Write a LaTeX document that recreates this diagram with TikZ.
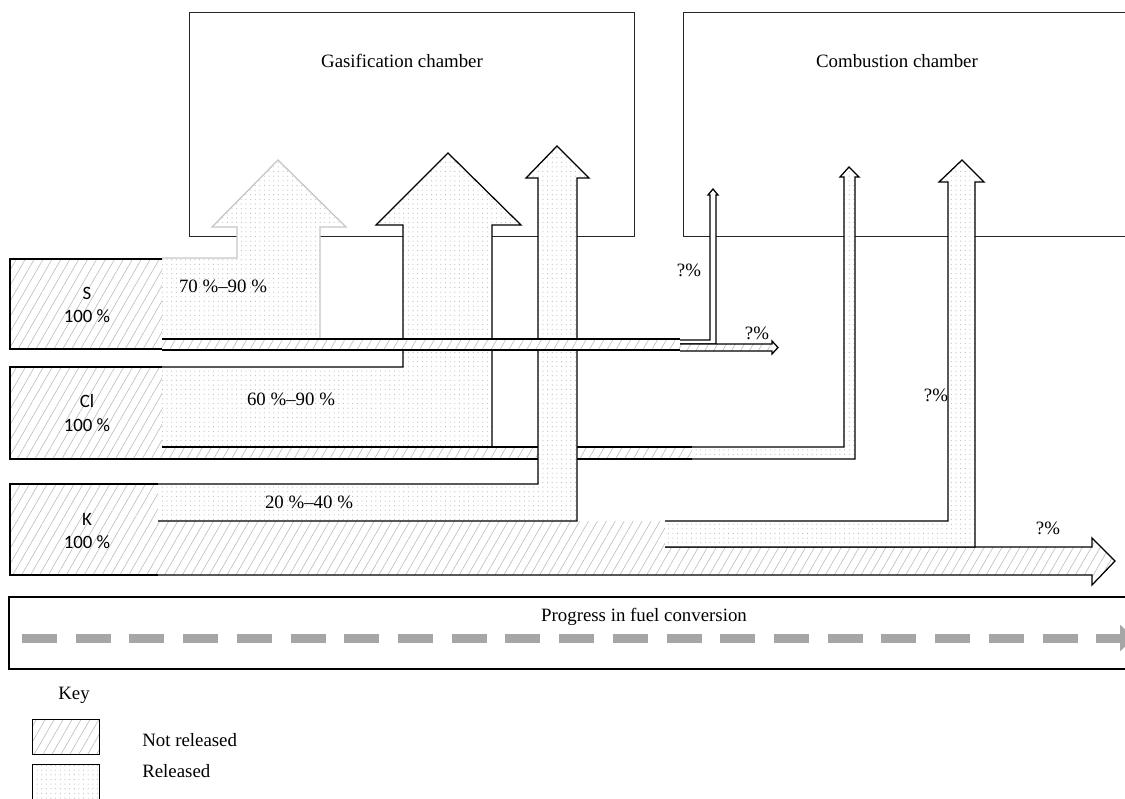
\documentclass[tikz,border=0pt]{standalone}
\usepackage{fontspec}
\setmainfont{Liberation Serif}
\newfontfamily\labelsans{Carlito}
\usetikzlibrary{patterns.meta, arrows.meta}

\tikzset{
  txt/.style={font=\fontsize{13.4}{16}\selectfont, inner sep=0pt},
  elem/.style={font=\labelsans\fontsize{13.4}{17}\selectfont, align=center, inner sep=0pt},
  chamber/.style={draw=black!85, line width=0.6pt},
  notrel/.style={preaction={fill=white}, pattern={Lines[angle=60, distance=5.5pt, line width=0.4pt]}, pattern color=gray!55},
  rel/.style={preaction={fill=white}, pattern={Dots[distance=3.3pt, radius=0.4pt]}, pattern color=gray!55},
  flowedge/.style={draw=black, line width=0.9pt},
  grayedge/.style={draw=gray!45, line width=0.9pt},
  progress/.style={draw=gray!70, line width=6.4pt, dash pattern=on 0.875cm off 0.4675cm, -{Triangle[length=0.35cm, width=0.65cm]}},
}

\begin{document}
\begin{tikzpicture}[x=0.025cm, y=-0.025cm]
  \useasboundingbox (0,0) rectangle (1125,798);
  \clip (0,0) rectangle (1125,798);

  % Chambers
  \draw[chamber] (189,12) rectangle (634,236);
  \node[txt] (gas) at (402,61) {Gasification chamber};
  \draw[chamber] (1140,12) -| (683,236) -- (1140,236);
  \node[txt] (comb) at (897,61) {Combustion chamber};

  % Element boxes
  \path[notrel] (10,259) rectangle (162,349);
  \draw[flowedge] (162,259) -- (10,259) -- (10,349) -- (162,349);
  \node[elem] (S) at (87,305) {S\\100 \%};
  \path[notrel] (10,367) rectangle (162,459);
  \draw[flowedge] (162,367) -- (10,367) -- (10,459) -- (162,459);
  \node[elem] (Cl) at (87,413) {Cl\\100 \%};
  \path[notrel] (10,484) rectangle (158,575);
  \draw[flowedge] (158,484) -- (10,484) -- (10,575) -- (158,575);
  \node[elem] (K) at (87,531) {K\\100 \%};

  % S released in gasification chamber
  \path[rel] (162,258) -- (237,258) -- (237,227) -- (212,227) -- (278,160) -- (346,227) -- (320,227) -- (320,339) -- (162,339) -- cycle;
  \draw[grayedge] (162,258) -- (237,258) -- (237,227) -- (212,227) -- (278,160) -- (346,227) -- (320,227) -- (320,339);
  \node[txt] (sgas) at (223,286) {70 \%--90 \%};

  % Cl released in gasification chamber
  \path[rel] (162,367) -- (403,367) -- (403,225) -- (376,225) -- (448,153) -- (521,225) -- (492,225) -- (492,447) -- (162,447) -- cycle;
  \draw[flowedge] (162,367) -- (403,367) -- (403,225) -- (376,225) -- (448,153) -- (521,225) -- (492,225) -- (492,447);
  \node[txt] (clgas) at (291,399) {60 \%--90 \%};

  % Cl not released, then released in combustion chamber
  \path[notrel] (162,447) rectangle (692,459);
  \draw[flowedge] (162,447) -- (692,447) (162,459) -- (692,459);
  \path[rel] (692,447) -- (844,447) -- (844,177) -- (840,177) -- (849,167) -- (859,177) -- (855,177) -- (855,459) -- (692,459) -- cycle;
  \draw[flowedge] (692,447) -- (844,447) -- (844,177) -- (840,177) -- (849,167) -- (859,177) -- (855,177) -- (855,459) -- (692,459);

  % K not released
  \path[notrel] (158,521) -- (665,521) -- (665,547) -- (1092,547) -- (1092,538) -- (1115,561) -- (1092,585) -- (1092,575) -- (158,575) -- cycle;
  \draw[flowedge] (665,547) -- (1092,547) -- (1092,538) -- (1115,561) -- (1092,585) -- (1092,575) -- (158,575);
  \node[txt] (kout) at (1048,528) {?\%};

  % K released in gasification chamber
  \path[rel] (158,484) -- (538,484) -- (538,178) -- (526,178) -- (557,146) -- (589,178) -- (577,178) -- (577,521) -- (158,521) -- cycle;
  \draw[flowedge] (158,484) -- (538,484) -- (538,178) -- (526,178) -- (557,146) -- (589,178) -- (577,178) -- (577,521) -- (158,521);
  \node[txt] (kgas) at (309,502) {20 \%--40 \%};

  % K released in combustion chamber
  \path[rel] (665,521) -- (948,521) -- (948,182) -- (939,182) -- (962,160) -- (984,182) -- (975,182) -- (975,547) -- (665,547) -- cycle;
  \draw[flowedge] (665,521) -- (948,521) -- (948,182) -- (939,182) -- (962,160) -- (984,182) -- (975,182) -- (975,547) -- (665,547);
  \node[txt] (kcomb) at (936,395) {?\%};

  % S not released
  \path[notrel] (162,339) rectangle (680,350);
  \draw[flowedge] (162,339) -- (680,339) (162,350) -- (680,350);
  \draw[flowedge, fill=white] (680,340) -- (710,340) -- (710,195) -- (708,195) -- (713,189) -- (718,195) -- (716,195) -- (716,344) -- (680,344);
  \path[notrel] (680,344) -- (772,344) -- (772,341) -- (778,347.5) -- (772,354) -- (772,351) -- (680,351) -- cycle;
  \draw[flowedge] (680,344) -- (772,344) -- (772,341) -- (778,347.5) -- (772,354) -- (772,351) -- (680,351);
  \node[txt] (scomb) at (689,270) {?\%};
  \node[txt] (sout) at (757,333) {?\%};

  % Progress
  \draw[line width=0.9pt] (1140,597) -| (9,669) -- (1140,669);
  \node[txt] (prog) at (644,617) {Progress in fuel conversion};
  \coordinate (pstart) at (22,638);
  \coordinate (pend) at (1134,638);
  \draw[progress] (pstart) -- (pend);

  % Key
  \node[txt] (key) at (74,695) {Key};
  \draw[notrel, draw=black, line width=0.6pt] (32,719) rectangle (99,754);
  \node[txt, anchor=west] (nrel) at (142,740) {Not released};
  \draw[rel, draw=black, line width=0.6pt] (32,764) rectangle (99,805);
  \node[txt, anchor=west] (yrel) at (142,771) {Released};
\end{tikzpicture}
\end{document}
